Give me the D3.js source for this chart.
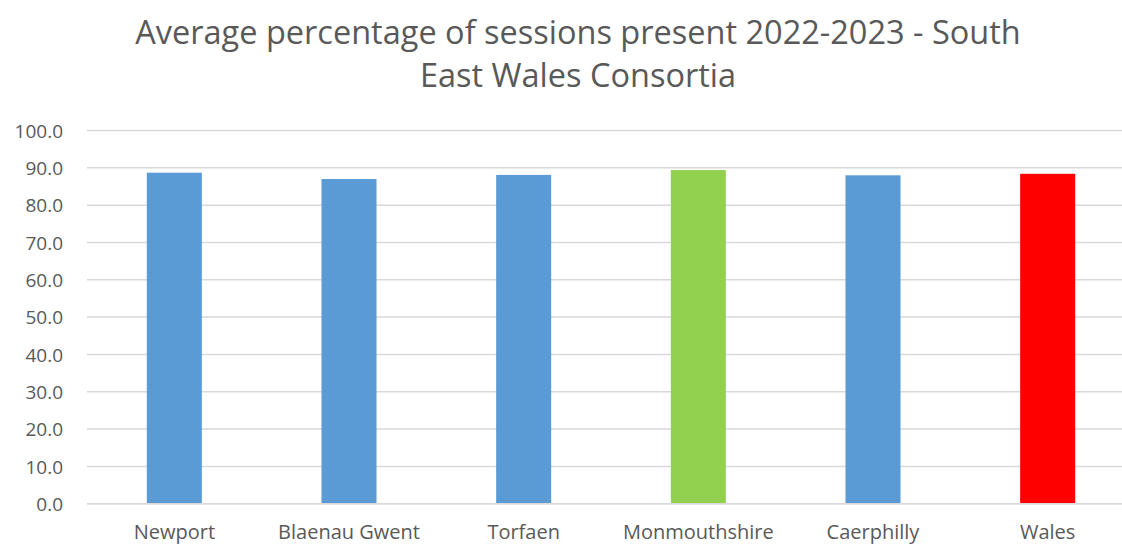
<!DOCTYPE html>
<html><head><meta charset="utf-8">
<script src="https://cdn.jsdelivr.net/npm/d3@7"></script>
<style>html,body{margin:0;padding:0;background:#fff;overflow:hidden}</style>
</head><body>
<svg id="c" width="1122" height="545"></svg>
<script>
const categories = ["Newport","Blaenau Gwent","Torfaen","Monmouthshire","Caerphilly","Wales"];
const values = [88.7, 87.0, 88.1, 89.4, 88.0, 88.4];
const colors = ["#5b9bd5","#5b9bd5","#5b9bd5","#92d050","#5b9bd5","#ff0000"];
const yTicks = [0,10,20,30,40,50,60,70,80,90,100];
const titleLines = ["Average percentage of sessions present 2022-2023 - South","East Wales Consortia"];

const svg = d3.select("#c");
const font = "'Open Sans', sans-serif";
const textColor = "#595959";

const x = d3.scaleBand().domain(categories).range([87, 1135]).paddingInner(0.685).paddingOuter(0.3425);
const y = d3.scaleLinear().domain([0,100]).range([503.7, 130.5]);

// gridlines
svg.append("g").selectAll("line").data(yTicks).join("line")
  .attr("x1", 87).attr("x2", 1135)
  .attr("y1", d => y(d)).attr("y2", d => y(d))
  .attr("stroke", "#d9d9d9").attr("stroke-width", 1.5);

// y axis labels
const yAxis = d3.axisLeft(y).tickValues(yTicks).tickFormat(d3.format(".1f")).tickSize(0).tickPadding(0);
const ga = svg.append("g").attr("transform", "translate(63,0)").call(yAxis);
ga.select(".domain").remove();
ga.selectAll("text").attr("font-family", font).attr("font-size", 19).attr("fill", textColor).attr("dy", "0.35em");

// bars
svg.append("g").selectAll("rect").data(values).join("rect")
  .attr("x", (d,i) => x(categories[i]))
  .attr("width", x.bandwidth())
  .attr("y", d => y(d))
  .attr("height", d => y(0) - y(d))
  .attr("fill", (d,i) => colors[i]);

// x axis line
svg.append("line").attr("x1", 87).attr("x2", 1135).attr("y1", y(0)).attr("y2", y(0))
  .attr("stroke", "#d9d9d9").attr("stroke-width", 1.5);

// x labels
const xAxis = d3.axisBottom(x).tickSize(0).tickPadding(0);
const gx = svg.append("g").call(xAxis);
gx.select(".domain").remove();
gx.selectAll("text").attr("font-family", font).attr("font-size", 20).attr("fill", textColor)
  .attr("y", 539).attr("dy", 0);

// title
svg.append("g").selectAll("text").data(titleLines).join("text")
  .attr("x", 578).attr("y", (d,i) => 44 + i*43)
  .attr("text-anchor", "middle")
  .attr("font-family", font).attr("font-size", 32.5).attr("fill", textColor)
  .text(d => d);
</script>
</body></html>
